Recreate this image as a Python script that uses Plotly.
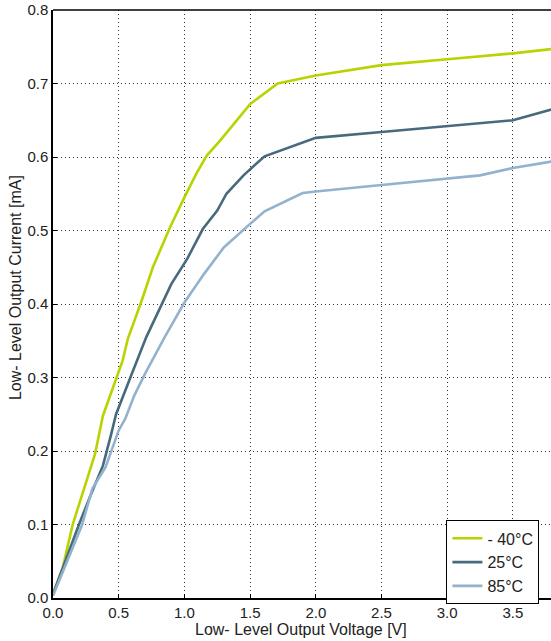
import plotly.graph_objects as go

series_names = ["- 40°C", "25°C", "85°C"]
colors = ["#b9d300", "#476a7c", "#93b2cd"]

x_m40 = [0, 0.075, 0.15, 0.24, 0.32, 0.38, 0.44, 0.53, 0.57, 0.67, 0.76, 0.89, 1.0, 1.09, 1.17, 1.27, 1.5, 1.71, 2.0, 2.5, 3.0, 3.5, 3.8]
y_m40 = [0.005, 0.042, 0.1, 0.151, 0.196, 0.248, 0.278, 0.323, 0.353, 0.402, 0.45, 0.504, 0.545, 0.577, 0.602, 0.622, 0.672, 0.70, 0.711, 0.725, 0.733, 0.741, 0.747]

x_25 = [0, 0.14, 0.2, 0.28, 0.38, 0.44, 0.48, 0.6, 0.71, 0.9, 1.02, 1.14, 1.25, 1.32, 1.45, 1.61, 1.8, 2.0, 2.5, 3.0, 3.5, 3.8]
y_25 = [0.005, 0.074, 0.101, 0.137, 0.18, 0.221, 0.25, 0.305, 0.355, 0.427, 0.461, 0.502, 0.527, 0.55, 0.575, 0.601, 0.613, 0.626, 0.634, 0.642, 0.65, 0.665]

x_85 = [0, 0.165, 0.22, 0.3, 0.4, 0.5, 0.55, 0.62, 0.7, 0.85, 1.0, 1.15, 1.3, 1.5, 1.61, 1.9, 2.0, 2.5, 3.0, 3.25, 3.5, 3.8]
y_85 = [0.003, 0.074, 0.099, 0.149, 0.178, 0.228, 0.244, 0.276, 0.305, 0.355, 0.402, 0.441, 0.477, 0.509, 0.526, 0.551, 0.553, 0.562, 0.57, 0.575, 0.585, 0.594]

x_title = "Low- Level Output Voltage [V]"
y_title = "Low- Level Output Current [mA]"

xs = [x_m40, x_25, x_85]
ys = [y_m40, y_25, y_85]

fig = go.Figure()
for name, c, xv, yv in zip(series_names, colors, xs, ys):
    fig.add_trace(go.Scatter(x=xv, y=yv, mode="lines", name=name,
                             line=dict(color=c, width=2.6)))

font = "Liberation Sans, Arial, sans-serif"
txt = "#222222"
axis_common = dict(
    showline=True, linecolor="black", linewidth=1.5,
    ticks="inside", ticklen=4, tickcolor="black", tickwidth=1,
    showgrid=True, gridcolor="#333333", griddash="1px,3px", gridwidth=1,
    zeroline=False, tickformat=".1f", automargin=False,
    tickfont=dict(family=font, size=15, color=txt),
)
fig.update_layout(
    width=551, height=641,
    margin=dict(l=53, r=0, t=10, b=43),
    paper_bgcolor="white", plot_bgcolor="white",
    font=dict(family=font, size=16, color=txt),
    xaxis=dict(range=[0, 3.79], dtick=0.5, ticklabelstandoff=0, **axis_common),
    yaxis=dict(range=[0, 0.8], dtick=0.1, **axis_common),
    legend=dict(x=0.79, y=0.132, xanchor="left", yanchor="top",
                bgcolor="white", bordercolor="black", borderwidth=1,
                font=dict(family=font, size=16, color=txt), tracegroupgap=0),
    showlegend=True,
    shapes=[dict(type="line", xref="paper", yref="paper", x0=0, x1=1, y0=1, y1=1,
                 line=dict(color="black", width=1.5))],
    annotations=[
        dict(text=x_title, xref="paper", yref="paper", x=0.497, y=0, yshift=-31,
             xanchor="center", yanchor="middle", showarrow=False,
             font=dict(family=font, size=16, color=txt)),
        dict(text=y_title, xref="paper", yref="paper", x=0, xshift=-38, y=0.527,
             xanchor="center", yanchor="middle", textangle=-90, showarrow=False,
             font=dict(family=font, size=16, color=txt)),
    ],
)

fig.write_html("out.html", config={"displayModeBar": False},
               post_script="document.body.style.margin='0';document.body.style.overflow='hidden';")
